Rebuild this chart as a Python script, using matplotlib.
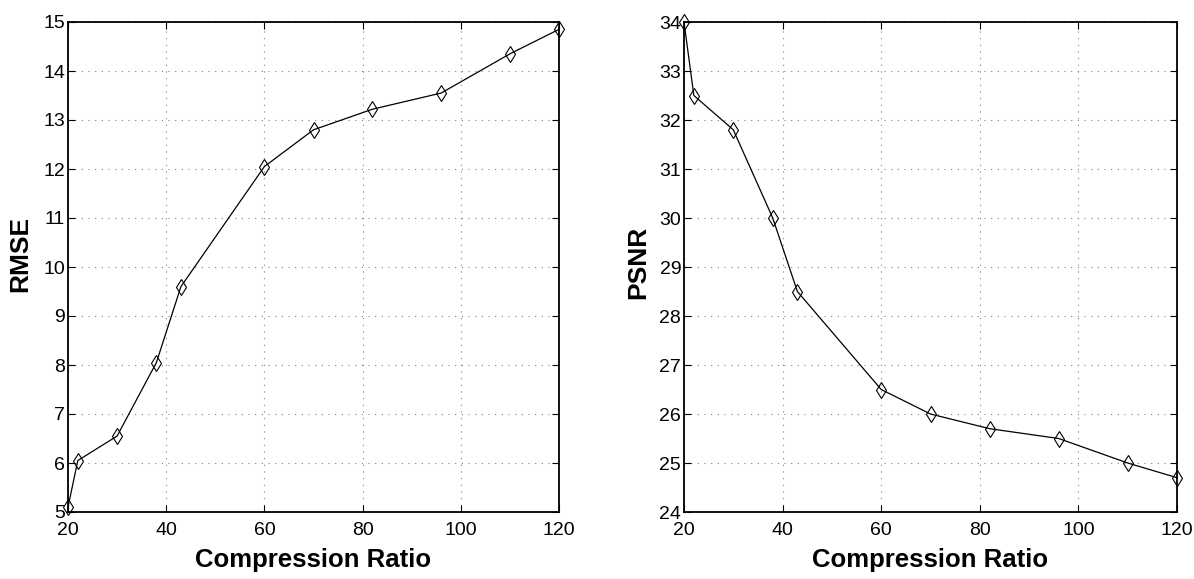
import matplotlib.pyplot as plt
import numpy as np

plt.rcParams['font.family'] = ['Liberation Sans', 'DejaVu Sans']

# compression ratios (shared x)
ratio = [20, 22, 30, 38, 43, 60, 70, 82, 96, 110, 120]
rmse = [5.1, 6.05, 6.55, 8.05, 9.6, 12.05, 12.8, 13.22, 13.55, 14.35, 14.85]
psnr = [34.0, 32.5, 31.8, 30.0, 28.5, 26.5, 26.0, 25.7, 25.5, 25.0, 24.7]

fig = plt.figure(figsize=(11.94, 5.79), dpi=100)
W, H = 1194, 579
ax1 = fig.add_axes([68 / W, 1 - 512 / H, 491 / W, 490 / H])
ax2 = fig.add_axes([684 / W, 1 - 512 / H, 493 / W, 490 / H])


def style(ax, y, ylim, ylabel, lab_xy):
    ax.plot(ratio, y, '-', color='black', lw=0.9, marker='d', ms=8,
            mfc='none', mec='black', mew=0.8, clip_on=False, zorder=3)
    ax.set_xlim(20, 120)
    ax.set_ylim(*ylim)
    ax.set_xticks([20, 40, 60, 80, 100, 120])
    ax.set_yticks(np.arange(ylim[0], ylim[1] + 1, 1))
    ax.grid(True, linestyle=(0, (1, 5)), color='#808080', lw=0.8)
    ax.tick_params(direction='in', top=True, right=True, length=5,
                   labelsize=14, width=0.8)
    ax.tick_params(axis='x', pad=7)
    ax.tick_params(axis='y', pad=2)
    for s in ax.spines.values():
        s.set_linewidth(1.3)
    ax.set_xlabel('Compression Ratio', fontsize=18.5, fontweight='bold', labelpad=7)
    ax.set_ylabel(ylabel, fontsize=19, fontweight='bold')
    ax.yaxis.set_label_coords(*lab_xy)


style(ax1, rmse, (5, 15), 'RMSE', (-0.072, 0.527))
style(ax2, psnr, (24, 34), 'PSNR', (-0.069, 0.51))

plt.savefig('out.png', dpi=100)
